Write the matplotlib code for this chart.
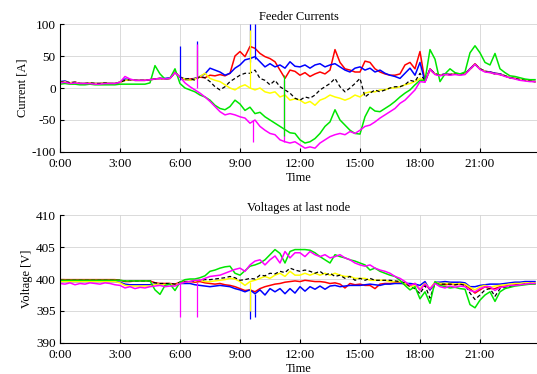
import numpy as np
import matplotlib
matplotlib.use('Agg')
import matplotlib.pyplot as plt

plt.rcParams['font.family'] = ['Liberation Serif', 'DejaVu Serif']
plt.rcParams['font.size'] = 9
plt.rcParams['axes.unicode_minus'] = False

# time axis: one sample every 15 minutes, in hours
hours = np.arange(96) * 0.25
tick_hours = [0, 3, 6, 9, 12, 15, 18, 21]
tick_labels = ['0:00', '3:00', '6:00', '9:00', '12:00', '15:00', '18:00', '21:00']

# ---- feeder currents [A] ----
cur_red = [9, 10, 8, 9, 7, 7, 8, 7,
           7, 8, 7, 7, 9, 12, 13, 12,
           12, 12, 13, 14, 15, 14, 15, 25,
           17, 13, 14, 15, 17, 16, 20, 19,
           21, 19, 23, 50, 57, 49, 65, 62,
           54, 49, 46, 41, 28, 15, 28, 26,
           20, 24, 18, 22, 25, 22, 28, 60,
           40, 30, 28, 25, 25, 42, 40, 30,
           25, 22, 20, 20, 22, 36, 40, 30,
           57, 10, 30, 22, 20, 22, 21, 22,
           21, 22, 30, 38, 30, 26, 25, 23,
           22, 19, 16, 15, 13, 12, 11, 10]
cur_blue = [10, 11, 8, 9, 7, 7, 8, 7,
            7, 8, 7, 7, 9, 14, 13, 12,
            12, 12, 13, 14, 15, 15, 16, 24,
            17, 14, 12, 15, 18, 22, 31, 28,
            25, 20, 23, 31, 36, 44, 46, 49,
            41, 33, 38, 33, 36, 31, 41, 34,
            33, 36, 31, 36, 38, 33, 36, 38,
            33, 28, 25, 31, 33, 28, 31, 25,
            28, 23, 20, 18, 15, 23, 31, 20,
            40, 10, 29, 22, 20, 22, 21, 22,
            21, 22, 30, 37, 30, 26, 25, 23,
            22, 19, 16, 15, 13, 12, 11, 10]
cur_yellow = [9, 10, 8, 9, 7, 7, 8, 7,
              7, 8, 7, 7, 9, 12, 13, 12,
              12, 12, 13, 14, 15, 14, 15, 24,
              17, 14, 12, 14, 18, 23, 15, 12,
              10, 5, 0, -3, 2, 5, 0, -3,
              0, -6, -8, -6, -14, -11, -19, -17,
              -19, -24, -21, -27, -19, -16, -11, -14,
              -16, -19, -16, -11, -14, -8, -6, -6,
              -3, -3, 0, 0, 2, 5, 7, 10,
              15, 11, 28, 22, 20, 21, 21, 22,
              21, 22, 29, 37, 30, 26, 24, 22,
              21, 19, 16, 15, 13, 12, 11, 10]
cur_black = [9, 10, 8, 9, 7, 7, 8, 7,
             7, 8, 7, 7, 9, 12, 13, 12,
             12, 12, 13, 14, 15, 14, 15, 24,
             17, 14, 15, 12, 18, 16, 10, 2,
             -3, 2, 10, 15, 20, 23, 23, 28,
             15, 12, 5, 12, 2, -3, -8, -16,
             -19, -14, -16, -11, -3, 2, 7, 15,
             2, -6, 0, 7, 15, -14, -8, -3,
             -6, -3, 0, 2, 2, 5, 12, 10,
             23, 11, 29, 22, 20, 21, 21, 22,
             21, 22, 29, 37, 30, 26, 24, 22,
             21, 19, 16, 15, 13, 12, 11, 10]
cur_green = [6, 7, 6, 6, 5, 5, 6, 5,
             5, 5, 5, 5, 6, 6, 6, 6,
             6, 6, 8, 35, 22, 14, 15, 30,
             7, 0, -3, -6, -11, -14, -19, -27,
             -32, -34, -29, -19, -25, -35, -30, -40,
             -38, -45, -50, -55, -60, -65, -70, -71,
             -81, -86, -84, -79, -71, -60, -53, -34,
             -50, -58, -66, -71, -72, -45, -30, -36,
             -37, -32, -27, -21, -14, -8, -3, 5,
             12, 12, 60, 45, 10, 22, 30, 24,
             22, 25, 55, 66, 55, 40, 36, 54,
             30, 24, 19, 18, 16, 14, 13, 13]
cur_magenta = [8, 9, 7, 8, 7, 7, 7, 6,
               6, 7, 7, 7, 9, 18, 14, 12,
               12, 12, 13, 14, 15, 14, 15, 24,
               17, 8, 2, -3, -8, -14, -21, -29,
               -37, -42, -40, -42, -45, -47, -55, -50,
               -60, -66, -71, -73, -81, -84, -86, -84,
               -89, -94, -92, -94, -86, -81, -76, -73,
               -71, -73, -68, -71, -66, -60, -58, -53,
               -47, -42, -37, -32, -24, -19, -11, -3,
               10, 9, 29, 21, 19, 21, 20, 21,
               20, 21, 29, 37, 29, 25, 24, 22,
               21, 18, 16, 14, 12, 11, 10, 10]

# short current spikes: time [h], low end, high end
cur_spk_blue_t, cur_spk_blue_lo, cur_spk_blue_hi = [6.0, 6.85, 9.5, 9.75], [12, 18, 40, 45], [65, 73, 100, 100]
cur_spk_yel_t, cur_spk_yel_lo, cur_spk_yel_hi = [6.85, 9.5], [14, 0], [60, 90]
cur_spk_mag_t, cur_spk_mag_lo, cur_spk_mag_hi = [6.85, 9.65, 11.2], [0, -85, -85], [68, -50, 12]
cur_spk_grn_t, cur_spk_grn_lo, cur_spk_grn_hi = [11.2], [-75], [20]

# ---- voltages at last node [V] ----
v_red = [399.9] * 8 + \
    [399.9, 399.9, 399.9, 399.9, 399.8, 399.6, 399.6, 399.7,
     399.7, 399.7, 399.7, 399.4, 399.3, 399.3, 399.3, 399.2,
     399.5, 399.6, 399.6, 399.5, 399.6, 399.4, 399.3, 399.2,
     399.3, 399.1, 399.0, 398.8, 398.5, 398.2, 398.3, 398.0,
     398.5, 398.8, 399.0, 399.2, 399.3, 399.5, 399.6, 399.7,
     399.6, 399.8, 399.7, 399.6, 399.6, 399.5, 399.3, 399.4,
     399.2, 398.6, 399.3, 399.1, 399.2, 399.0, 399.0, 398.5,
     399.2, 399.3, 399.3, 399.4, 399.4, 399.2, 399.0, 399.3,
     398.3, 399.3, 398.3, 399.4, 399.2, 399.1, 399.2, 399.1,
     399.2, 399.1, 398.5, 397.8, 398.3, 398.8, 398.5, 398.5,
     398.8, 398.9, 399.0, 399.1, 399.2, 399.2, 399.3, 399.3]
v_blue = [399.6] * 8 + \
    [399.6, 399.6, 399.6, 399.6, 399.5, 399.2, 399.1, 399.1,
     399.1, 399.1, 399.1, 399.2, 399.2, 399.1, 399.2, 399.0,
     399.3, 399.3, 399.3, 399.1, 399.0, 398.9, 398.8, 398.9,
     399.0, 398.9, 398.8, 398.5, 398.3, 398.0, 398.3, 397.7,
     398.3, 397.5, 398.5, 398.0, 398.5, 397.7, 398.5, 397.8,
     398.8, 398.1, 398.8, 398.4, 398.9, 398.4, 398.9, 399.0,
     398.8, 398.9, 399.0, 399.0, 399.0, 399.1, 399.2, 399.1,
     399.0, 399.2, 399.2, 399.3, 399.3, 399.3, 399.3, 399.2,
     399.0, 399.6, 398.3, 399.5, 399.5, 399.6, 399.5, 399.5,
     399.5, 399.4, 398.8, 398.8, 399.0, 399.1, 399.2, 399.2,
     399.2, 399.3, 399.4, 399.5, 399.5, 399.6, 399.6, 399.6]
v_yellow = [399.6] * 8 + \
    [399.6, 399.6, 399.6, 399.6, 399.4, 399.0, 398.9, 398.9,
     398.9, 398.9, 398.9, 399.2, 399.2, 399.1, 399.2, 399.0,
     399.4, 399.5, 399.6, 399.7, 399.8, 399.6, 399.6, 399.7,
     399.8, 399.9, 400.1, 400.0, 399.6, 399.0, 399.6, 399.8,
     400.1, 400.4, 400.1, 400.6, 400.9, 400.4, 401.2, 400.6,
     400.6, 400.9, 400.6, 400.9, 400.6, 400.9, 400.6, 400.9,
     400.6, 400.4, 400.4, 400.1, 400.1, 400.1, 399.8, 399.8,
     399.8, 399.8, 399.6, 399.6, 399.6, 399.3, 398.8, 399.0,
     398.5, 399.3, 398.5, 399.5, 399.3, 399.3, 399.3, 399.2,
     399.3, 399.2, 398.7, 398.3, 398.8, 399.0, 398.7, 398.9,
     399.0, 399.1, 399.2, 399.3, 399.3, 399.4, 399.4, 399.4]
v_black = [399.8] * 8 + \
    [399.8, 399.8, 399.8, 399.8, 399.8, 399.7, 399.7, 399.7,
     399.7, 399.7, 399.7, 399.4, 399.3, 399.3, 399.3, 399.2,
     399.5, 399.6, 399.6, 399.7, 399.8, 399.9, 399.9, 400.0,
     400.1, 400.2, 400.4, 400.2, 399.8, 399.9, 400.1, 400.0,
     400.6, 400.5, 400.9, 400.8, 401.2, 401.0, 401.7, 401.4,
     401.2, 401.4, 401.2, 400.9, 401.2, 400.6, 400.9, 400.4,
     400.6, 400.1, 400.4, 399.8, 400.1, 399.8, 400.1, 399.8,
     399.8, 399.8, 399.8, 399.7, 399.6, 399.4, 398.8, 398.5,
     397.7, 399.0, 397.0, 399.3, 399.2, 399.2, 399.2, 399.1,
     399.2, 399.0, 397.8, 396.8, 397.5, 398.3, 398.5, 397.3,
     398.5, 398.7, 398.8, 399.0, 399.1, 399.2, 399.3, 399.3]
v_green = [399.8] * 8 + \
    [399.8, 399.8, 399.8, 399.8, 399.8, 399.7, 399.7, 399.7,
     399.7, 399.7, 399.7, 398.3, 397.6, 399.0, 399.2, 398.2,
     399.5, 399.9, 400.0, 400.0, 400.2, 400.5, 401.2, 401.4,
     401.7, 401.9, 402.0, 400.9, 400.6, 401.3, 402.0, 402.2,
     402.5, 403.0, 403.8, 404.6, 404.0, 402.5, 404.3, 404.6,
     404.6, 404.6, 404.5, 404.1, 403.5, 403.0, 402.5, 403.8,
     403.5, 403.3, 403.0, 402.8, 402.5, 402.2, 401.4, 401.7,
     401.2, 400.9, 400.6, 400.4, 399.8, 399.0, 398.3, 398.8,
     396.9, 398.0, 396.2, 399.6, 399.0, 398.8, 398.6, 398.7,
     398.5, 398.4, 396.0, 395.5, 396.7, 397.5, 398.0, 396.5,
     398.0, 398.5, 398.7, 398.9, 399.0, 399.1, 399.2, 399.2]
v_magenta = [399.3, 399.2, 399.4, 399.1, 399.3, 399.2, 399.4, 399.3,
             399.2, 399.4, 399.3, 399.1, 399.0, 398.6, 398.8, 398.5,
             398.7, 398.6, 398.8, 398.9, 399.0, 398.8, 398.9, 398.9,
             399.3, 399.5, 399.6, 399.8, 399.8, 400.1, 400.4, 400.5,
             400.6, 400.9, 401.2, 401.5, 401.7, 401.2, 402.2, 402.8,
             403.0, 402.2, 403.0, 403.6, 402.5, 404.3, 403.3, 404.1,
             404.1, 403.5, 404.3, 403.8, 403.5, 403.8, 403.3, 403.5,
             403.8, 403.3, 403.0, 402.5, 402.2, 402.0, 402.2, 401.7,
             401.4, 401.2, 400.9, 400.4, 400.1, 399.6, 399.0, 399.3,
             398.3, 399.2, 398.5, 399.3, 398.8, 398.6, 398.9, 398.7,
             398.9, 398.8, 398.2, 398.0, 398.5, 398.8, 398.8, 398.2,
             398.7, 398.8, 399.0, 399.0, 399.1, 399.2, 399.3, 399.3]

v_spk_mag_t, v_spk_mag_lo, v_spk_mag_hi = [6.0, 6.83], [394.0, 394.0], [399.3, 399.5]
v_spk_blue_t, v_spk_blue_lo, v_spk_blue_hi = [9.5, 9.75], [393.7, 394.0], [398.3, 397.7]
v_spk_yel_t, v_spk_yel_lo, v_spk_yel_hi = [9.5], [395.0], [399.5]

RED, BLUE, YEL, GRN, MAG = '#ff0000', '#0000ff', '#ffff00', '#00e600', '#ff00ff'

fig = plt.figure(figsize=(5.37, 3.74), dpi=100)
ax1 = fig.add_axes([0.1117, 0.5936, 0.8883, 0.3422])
ax2 = fig.add_axes([0.1117, 0.0829, 0.8883, 0.3422])


def draw(ax, red, blue, yellow, black, green, magenta):
    ax.plot(hours, red, color=RED, lw=1.1)
    ax.plot(hours, blue, color=BLUE, lw=1.1)
    ax.plot(hours, yellow, color=YEL, lw=1.1)
    ax.plot(hours, black, color='k', lw=0.9, dashes=(3, 2))
    ax.plot(hours, green, color=GRN, lw=1.1)
    ax.plot(hours, magenta, color=MAG, lw=1.1)


draw(ax1, cur_red, cur_blue, cur_yellow, cur_black, cur_green, cur_magenta)
ax1.vlines(cur_spk_blue_t, cur_spk_blue_lo, cur_spk_blue_hi, color=BLUE, lw=0.9)
ax1.vlines(cur_spk_yel_t, cur_spk_yel_lo, cur_spk_yel_hi, color=YEL, lw=0.9)
ax1.vlines(cur_spk_mag_t, cur_spk_mag_lo, cur_spk_mag_hi, color=MAG, lw=0.9)
ax1.vlines(cur_spk_grn_t, cur_spk_grn_lo, cur_spk_grn_hi, color=GRN, lw=0.9)

draw(ax2, v_red, v_blue, v_yellow, v_black, v_green, v_magenta)
ax2.vlines(v_spk_mag_t, v_spk_mag_lo, v_spk_mag_hi, color=MAG, lw=0.9)
ax2.vlines(v_spk_blue_t, v_spk_blue_lo, v_spk_blue_hi, color=BLUE, lw=0.9)
ax2.vlines(v_spk_yel_t, v_spk_yel_lo, v_spk_yel_hi, color=YEL, lw=0.9)

ax1.set_ylim(-100, 100)
ax1.set_yticks([-100, -50, 0, 50, 100])
ax1.set_title('Feeder Currents', pad=3, fontsize=9)
ax1.set_ylabel('Current [A]', labelpad=2)

ax2.set_ylim(390, 410)
ax2.set_yticks([390, 395, 400, 405, 410])
ax2.set_title('Voltages at last node', pad=3, fontsize=9)
ax2.set_ylabel('Voltage [V]', labelpad=2)

for ax in (ax1, ax2):
    ax.set_xlim(0, 23.85)
    ax.set_xticks(tick_hours)
    ax.set_xticklabels(tick_labels)
    ax.set_xlabel('Time', labelpad=2)
    ax.grid(True, color='#d4d4d4', lw=0.6)
    ax.set_axisbelow(True)
    ax.spines['top'].set_visible(False)
    ax.spines['right'].set_visible(False)
    ax.tick_params(direction='in', length=3, width=0.8, labelsize=9.5)
    ax.tick_params(axis='x', pad=4)
    ax.tick_params(axis='y', pad=3)

fig.savefig('out.png', dpi=100)
